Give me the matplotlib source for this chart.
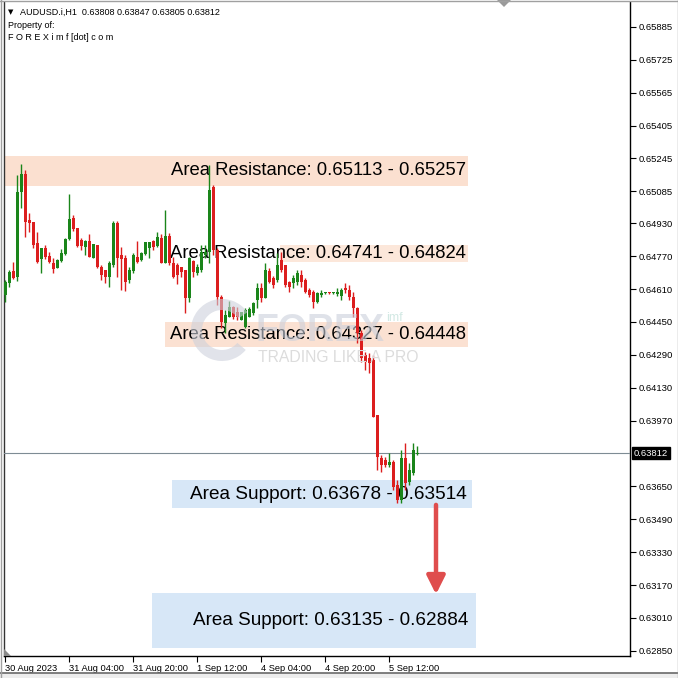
import matplotlib
matplotlib.use("Agg")
import matplotlib.pyplot as plt
from matplotlib.patches import Rectangle, Polygon, Wedge
import matplotlib.transforms as mtransforms
import numpy as np

# ---------------- data ----------------
symbol_line = "AUDUSD.i,H1  0.63808 0.63847 0.63805 0.63812"
owner_lines = ["Property of:", "F O R E X i m f [dot] c o m"]

opens = [0.64581, 0.64639, 0.64698, 0.64669, 0.65082, 0.65170, 0.64946, 0.64936, 0.64834, 0.64756,
         0.64810, 0.64771, 0.64736, 0.64712, 0.64746, 0.64781, 0.64854, 0.64956, 0.64907, 0.64849,
         0.64815, 0.64844, 0.64761, 0.64825, 0.64717, 0.64703, 0.64669, 0.64727, 0.64931, 0.64776,
         0.64761, 0.64654, 0.64698, 0.64766, 0.64751, 0.64781, 0.64810, 0.64844, 0.64820, 0.64858,
         0.64736, 0.64868, 0.64736, 0.64727, 0.64717, 0.64703, 0.64567, 0.64746, 0.64688, 0.64703,
         0.64776, 0.64790, 0.65107, 0.64800, 0.64571, 0.64444, 0.64474, 0.64523, 0.64498, 0.64459,
         0.64425, 0.64474, 0.64493, 0.64557, 0.64615, 0.64567, 0.64698, 0.64664, 0.64654, 0.64751,
         0.64727, 0.64644, 0.64639, 0.64644, 0.64678, 0.64654, 0.64605, 0.64595, 0.64547, 0.64581,
         0.64591, 0.64591, 0.64590, 0.64586, 0.64576, 0.64615, 0.64605, 0.64571, 0.64518, 0.64396,
         0.64289, 0.64275, 0.64265, 0.63998, 0.63788, 0.63779, 0.63754, 0.63769, 0.63657, 0.63584,
         0.63788, 0.63671, 0.63715, 0.63808]
highs = [0.64654, 0.64703, 0.64741, 0.65165, 0.65219, 0.65189, 0.64980, 0.64936, 0.64887, 0.64810,
         0.64825, 0.64790, 0.64761, 0.64756, 0.64805, 0.64858, 0.65072, 0.64970, 0.64907, 0.64858,
         0.64849, 0.64878, 0.64829, 0.64825, 0.64727, 0.64703, 0.64746, 0.64941, 0.64941, 0.64815,
         0.64776, 0.64717, 0.64785, 0.64844, 0.64790, 0.64839, 0.64839, 0.64849, 0.64887, 0.64878,
         0.64995, 0.64883, 0.64766, 0.64736, 0.64717, 0.64703, 0.64766, 0.64751, 0.64732, 0.64825,
         0.64825, 0.65213, 0.65116, 0.64810, 0.64581, 0.64508, 0.64552, 0.64527, 0.64523, 0.64498,
         0.64518, 0.64523, 0.64547, 0.64639, 0.64639, 0.64736, 0.64712, 0.64673, 0.64785, 0.64790,
         0.64727, 0.64649, 0.64678, 0.64703, 0.64703, 0.64664, 0.64615, 0.64605, 0.64595, 0.64605,
         0.64595, 0.64595, 0.64595, 0.64615, 0.64615, 0.64639, 0.64629, 0.64595, 0.64523, 0.64411,
         0.64304, 0.64299, 0.64289, 0.63998, 0.63803, 0.63793, 0.63813, 0.63779, 0.63681, 0.63827,
         0.63861, 0.63764, 0.63861, 0.63847]
lows = [0.64547, 0.64620, 0.64659, 0.64649, 0.65005, 0.64864, 0.64887, 0.64810, 0.64736, 0.64688,
        0.64756, 0.64736, 0.64688, 0.64712, 0.64741, 0.64776, 0.64849, 0.64892, 0.64815, 0.64800,
        0.64776, 0.64766, 0.64761, 0.64712, 0.64654, 0.64639, 0.64620, 0.64717, 0.64669, 0.64605,
        0.64600, 0.64639, 0.64688, 0.64736, 0.64746, 0.64776, 0.64761, 0.64800, 0.64815, 0.64736,
        0.64736, 0.64727, 0.64664, 0.64634, 0.64669, 0.64493, 0.64547, 0.64669, 0.64678, 0.64693,
        0.64761, 0.64736, 0.64776, 0.64532, 0.64421, 0.64396, 0.64474, 0.64464, 0.64459, 0.64459,
        0.64421, 0.64474, 0.64484, 0.64518, 0.64547, 0.64567, 0.64639, 0.64615, 0.64644, 0.64693,
        0.64620, 0.64595, 0.64615, 0.64629, 0.64620, 0.64591, 0.64571, 0.64518, 0.64542, 0.64571,
        0.64586, 0.64586, 0.64586, 0.64576, 0.64557, 0.64591, 0.64557, 0.64474, 0.64347, 0.64255,
        0.64216, 0.64201, 0.63988, 0.63730, 0.63720, 0.63745, 0.63745, 0.63633, 0.63569, 0.63569,
        0.63633, 0.63657, 0.63705, 0.63805]
closes = [0.64644, 0.64693, 0.64664, 0.65082, 0.65170, 0.64936, 0.64931, 0.64825, 0.64741, 0.64810,
          0.64766, 0.64741, 0.64707, 0.64751, 0.64785, 0.64854, 0.64951, 0.64902, 0.64820, 0.64820,
          0.64844, 0.64766, 0.64829, 0.64717, 0.64678, 0.64669, 0.64736, 0.64931, 0.64761, 0.64756,
          0.64644, 0.64703, 0.64776, 0.64741, 0.64785, 0.64839, 0.64839, 0.64815, 0.64864, 0.64736,
          0.64868, 0.64736, 0.64669, 0.64678, 0.64693, 0.64567, 0.64761, 0.64693, 0.64717, 0.64790,
          0.64790, 0.65092, 0.64800, 0.64571, 0.64449, 0.64484, 0.64523, 0.64474, 0.64474, 0.64498,
          0.64508, 0.64513, 0.64542, 0.64615, 0.64567, 0.64703, 0.64644, 0.64629, 0.64727, 0.64703,
          0.64629, 0.64620, 0.64664, 0.64688, 0.64644, 0.64595, 0.64581, 0.64547, 0.64591, 0.64591,
          0.64592, 0.64589, 0.64591, 0.64595, 0.64605, 0.64605, 0.64571, 0.64518, 0.64396, 0.64275,
          0.64255, 0.64250, 0.63988, 0.63793, 0.63754, 0.63754, 0.63769, 0.63647, 0.63584, 0.63788,
          0.63666, 0.63730, 0.63827, 0.63812]

current_price = 0.63812

time_labels = ["30 Aug 2023", "31 Aug 04:00", "31 Aug 20:00", "1 Sep 12:00",
               "4 Sep 04:00", "4 Sep 20:00", "5 Sep 12:00"]
time_label_bars = [0, 16, 32, 48, 64, 80, 96]

price_ticks = [0.65885, 0.65725, 0.65565, 0.65405, 0.65245, 0.65085, 0.64930, 0.64770,
               0.64610, 0.64450, 0.64290, 0.64130, 0.63970, 0.63650, 0.63490, 0.63330,
               0.63170, 0.63010, 0.62850]

zone_labels = ["Area Resistance: 0.65113 - 0.65257",
               "Area Resistance: 0.64741 - 0.64824",
               "Area Resistance: 0.64327 - 0.64448",
               "Area Support: 0.63678 - 0.63514",
               "Area Support: 0.63135 - 0.62884"]
zone_low = [0.65113, 0.64741, 0.64327, 0.63545, 0.62864]
zone_high = [0.65257, 0.64824, 0.64448, 0.63680, 0.63131]
zone_start_bar = [-0.25, 68.75, 40.0, 41.75, 36.75]
zone_end_bar = [115.75, 115.75, 115.75, 116.75, 117.75]
zone_colors = ["#FBE0D0", "#FCE7DA", "#FBE1D2", "#D7E7F7", "#D7E7F7"]

arrow_bar = 107.75
arrow_from = 0.63560
arrow_to = 0.63125

# ---------------- figure ----------------
W = H = 678
fig = plt.figure(figsize=(W / 100, H / 100), dpi=100)
fig.patch.set_facecolor("white")

ax_left, ax_right, ax_top, ax_bottom = 3.5, 630, 2, 656
ax = fig.add_axes([ax_left / W, 1 - ax_bottom / H, (ax_right - ax_left) / W, (ax_bottom - ax_top) / H])
ax.set_facecolor("white")
ax.set_xlim(-0.375, 156.25)
ax.set_ylim(0.62825, 0.66006)

GREEN = "#1A851A"
RED = "#DC1E1E"

small_font = "Liberation Sans"
big_font = "Liberation Sans"

# zones
for lab, lo, hi, s, e, col in zip(zone_labels, zone_low, zone_high, zone_start_bar, zone_end_bar, zone_colors):
    ax.add_patch(Rectangle((s, lo), e - s, hi - lo, facecolor=col, edgecolor="none", zorder=1))


def fpx(x, y):
    return (x / W, 1 - y / H)


# watermark (faint)
wm = Wedge((222, H - 330), 31, 35, 320, width=11,
           facecolor="#CDD1DC", edgecolor="none", alpha=0.6, zorder=2)
wm.set_transform(mtransforms.IdentityTransform())
fig.patches.append(wm)
fig.text(*fpx(255, 331), "FOREX", fontsize=27, fontweight="bold", family=big_font,
         color="#CBD0DB", alpha=0.6, va="center", ha="left", zorder=2)
fig.text(*fpx(386, 318), "imf", fontsize=9, family=big_font,
         color="#BFDFD8", alpha=0.7, va="center", ha="left", zorder=2)
fig.text(*fpx(258, 357), "TRADING LIKE A PRO", fontsize=11.3, family=big_font,
         color="#DCDCDC", va="center", ha="left", zorder=2)

# zone labels
text_right = [115.25, 115.25, 115.25, 115.5, 115.75]
sizes = [13.3, 13.3, 13.3, 13.7, 13.6]
for lab, lo, hi, xr, fs in zip(zone_labels, zone_low, zone_high, text_right, sizes):
    ax.text(xr, (lo + hi) / 2, lab, ha="right", va="center", fontsize=fs,
            family=big_font, color="black", zorder=3)

# candles
o = np.array(opens); h = np.array(highs); l = np.array(lows); c = np.array(closes)
x = np.arange(len(o))
cols = np.where(c >= o, GREEN, RED)
ax.vlines(x, l, h, colors=cols, linewidth=1.0, zorder=5)
min_h = 0.00005
body_lo = np.minimum(o, c)
body_h = np.maximum(np.abs(c - o), min_h)
ax.bar(x, body_h, bottom=body_lo, width=0.75, color=cols, linewidth=0, zorder=6)

# current price line
ax.axhline(current_price, color="#7E8C94", linewidth=0.8, zorder=4)

# arrow
ax.annotate("", xy=(arrow_bar, arrow_to), xytext=(arrow_bar, arrow_from),
            arrowprops=dict(arrowstyle="-|>,head_length=1.1,head_width=0.55",
                            color="#DF4D4D", lw=3.2, shrinkA=0, shrinkB=0), zorder=7)

# axes styling
ax.spines["top"].set_visible(False)
ax.spines["left"].set_color("#333333")
ax.spines["left"].set_linewidth(1.0)
ax.spines["right"].set_color("black")
ax.spines["right"].set_linewidth(1.0)
ax.spines["bottom"].set_color("black")
ax.spines["bottom"].set_linewidth(1.0)

ax.yaxis.tick_right()
ax.set_yticks(price_ticks)
ax.set_yticklabels([f"{v:.5f}" for v in price_ticks])
ax.tick_params(axis="y", direction="out", length=4, width=0.8, pad=2, labelsize=6.8,
               colors="black", left=False)
for t in ax.get_yticklabels():
    t.set_family(small_font)

ax.set_xticks(time_label_bars)
ax.set_xticklabels(time_labels, ha="left")
ax.tick_params(axis="x", direction="out", length=4, width=0.8, pad=2, labelsize=6.7, colors="black")
for t in ax.get_xticklabels():
    t.set_family(small_font)

# current price label
btr = mtransforms.blended_transform_factory(fig.transFigure, ax.transData)
ax.text(634 / W, current_price, f"{current_price:.5f}", transform=btr, ha="left", va="center",
        fontsize=6.8, family=small_font, color="white", zorder=10, clip_on=False,
        bbox=dict(boxstyle="square,pad=0.18", facecolor="black", edgecolor="black"))

# header texts
fig.text(*fpx(8, 12), "\u25bc", fontsize=5, family="DejaVu Sans", color="black", va="center", ha="left")
fig.text(*fpx(20, 12), symbol_line, fontsize=6.5, family=small_font, color="black", va="center", ha="left")
fig.text(*fpx(8, 25), owner_lines[0], fontsize=6.5, family=small_font, color="black", va="center", ha="left")
fig.text(*fpx(8, 37), owner_lines[1], fontsize=6.5, family=small_font, color="black", va="center", ha="left")

# little markers
fig.patches.append(Polygon([fpx(497, 0), fpx(511, 0), fpx(504, 7)], closed=True, transform=fig.transFigure,
                           facecolor="#9A9A9A", edgecolor="none"))
fig.patches.append(Polygon([fpx(4, 649), fpx(4, 656), fpx(11, 656)], closed=True, transform=fig.transFigure,
                           facecolor="#8A8A8A", edgecolor="none"))

# window frame
fig.patches.append(Rectangle((0, 0), 1, 5 / H, transform=fig.transFigure, facecolor="#EDEDED", edgecolor="none"))
fig.lines.append(plt.Line2D([0, 1], [5 / H, 5 / H], transform=fig.transFigure, color="#6A6A6A", lw=1.2))
fig.lines.append(plt.Line2D([0, 1], [1 - 0.5 / H, 1 - 0.5 / H], transform=fig.transFigure, color="#A0A0A0", lw=1))
fig.lines.append(plt.Line2D([0.5 / W, 0.5 / W], [0, 1], transform=fig.transFigure, color="#A0A0A0", lw=1))
fig.lines.append(plt.Line2D([1 - 0.5 / W, 1 - 0.5 / W], [0, 1], transform=fig.transFigure, color="#A0A0A0", lw=1))

fig.savefig("out.png", dpi=100)
